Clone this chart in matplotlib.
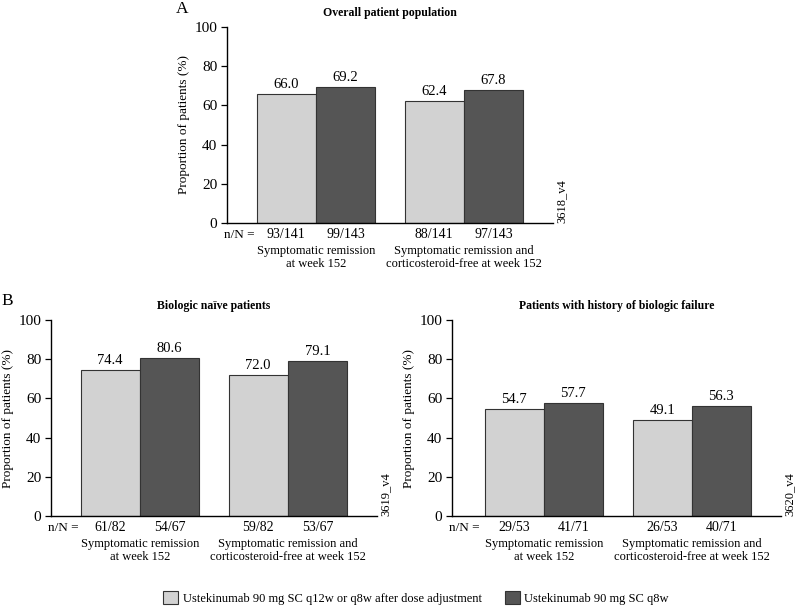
import numpy as np
import matplotlib
matplotlib.use('Agg')
import matplotlib.pyplot as plt
from matplotlib.patches import Patch

plt.rcParams['font.family'] = ['Liberation Serif', 'DejaVu Serif']

categories = ['Symptomatic remission\nat week 152',
              'Symptomatic remission and\ncorticosteroid-free at week 152']
series_names = ['Ustekinumab 90 mg SC q12w or q8w after dose adjustment',
                'Ustekinumab 90 mg SC q8w']

overall_q12 = [66.0, 62.4]
overall_q8 = [69.2, 67.8]
overall_nn_q12 = ['93/141', '88/141']
overall_nn_q8 = ['99/143', '97/143']

naive_q12 = [74.4, 72.0]
naive_q8 = [80.6, 79.1]
naive_nn_q12 = ['61/82', '59/82']
naive_nn_q8 = ['54/67', '53/67']

failure_q12 = [54.7, 49.1]
failure_q8 = [57.7, 56.3]
failure_nn_q12 = ['29/53', '26/53']
failure_nn_q8 = ['41/71', '40/71']

yticks = [0, 20, 40, 60, 80, 100]

light = '#d2d2d2'
dark = '#555555'
W, H = 797, 607

fig = plt.figure(figsize=(7.97, 6.07), dpi=100)


def panel(left_px, top_px, title, v1, v2, nn1, nn2, tag, xl=(-0.6, 1.6)):
    unit = 148
    w_px, h_px = (xl[1] - xl[0]) * unit, 196
    ax = fig.add_axes([left_px / W, 1 - (top_px + h_px) / H, w_px / W, h_px / H])
    x = np.arange(len(categories))
    bw = 0.4
    ax.bar(x - bw / 2, v1, bw, color=light, edgecolor='#333333', linewidth=0.8)
    ax.bar(x + bw / 2, v2, bw, color=dark, edgecolor='#333333', linewidth=0.8)
    for xi, a, b in zip(x, v1, v2):
        ax.text(xi - bw / 2, a + 1.5, f'{a:.1f}', ha='center', va='bottom', fontsize=10.5)
        ax.text(xi + bw / 2, b + 1.5, f'{b:.1f}', ha='center', va='bottom', fontsize=10.5)
    ax.set_xlim(*xl)
    ax.set_ylim(0, 100)
    ax.set_yticks(yticks)
    ax.tick_params(axis='y', direction='out', length=4, width=0.9, labelsize=11, pad=3)
    ax.tick_params(axis='x', length=0)
    ax.set_xticks([])
    for s in ['top', 'right']:
        ax.spines[s].set_visible(False)
    ax.spines['left'].set_linewidth(1.0)
    ax.spines['bottom'].set_linewidth(1.0)
    ax.set_ylabel('Proportion of patients (%)', fontsize=9.5, labelpad=3)
    ax.set_title(title, fontsize=8.5, fontweight='bold', pad=8)
    tr = ax.get_xaxis_transform()
    for xi, a, b in zip(x, nn1, nn2):
        ax.text(xi - bw / 2, -0.06, a, transform=tr, ha='center', va='center', fontsize=10)
        ax.text(xi + bw / 2, -0.06, b, transform=tr, ha='center', va='center', fontsize=10)
    ax.text(-0.01, -0.06, 'n/N =', transform=ax.transAxes, ha='left', va='center', fontsize=9.5)
    for xi, c in zip(x, categories):
        ax.text(xi, -0.11, c, transform=tr, ha='center', va='top', fontsize=9,
                linespacing=1.2)
    fig.text((left_px + w_px + 9) / W, 1 - (top_px + h_px) / H, tag, rotation=90,
             ha='center', va='bottom', fontsize=9)
    return ax


panel(227, 27, 'Overall patient population', overall_q12, overall_q8,
      overall_nn_q12, overall_nn_q8, '3618_v4')
panel(51, 320, 'Biologic na\u00efve patients', naive_q12, naive_q8,
      naive_nn_q12, naive_nn_q8, '3619_v4')
panel(452, 320, 'Patients with history of biologic failure', failure_q12, failure_q8,
      failure_nn_q12, failure_nn_q8, '3620_v4', xl=(-0.62, 1.6))

fig.text(182 / W, 1 - 9 / H, 'A', fontsize=12.5, ha='center', va='center')
fig.text(7 / W, 1 - 301 / H, 'B', fontsize=12.5, ha='center', va='center')

handles = [Patch(facecolor=light, edgecolor='#333333', linewidth=0.8),
           Patch(facecolor=dark, edgecolor='#333333', linewidth=0.8)]
fig.legend(handles, series_names, loc='center', bbox_to_anchor=(416 / W, 1 - 598 / H),
           ncol=2, frameon=False, fontsize=9, handlelength=1.2, handleheight=1.2,
           handletextpad=0.4, columnspacing=1.8, borderpad=0, borderaxespad=0)

fig.savefig('out.png', dpi=100)
